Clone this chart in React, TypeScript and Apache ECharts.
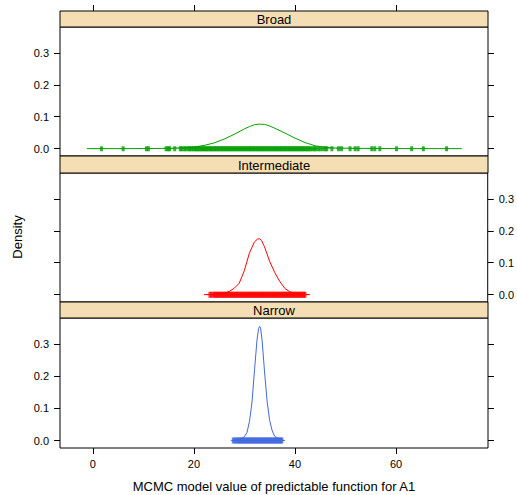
import React, { useEffect, useRef } from "react";
import * as echarts from "echarts";

// ---- data ----
const panelNames = ["Broad", "Intermediate", "Narrow"];
const panelColors = ["#00A000", "#FF0000", "#4169E1"];

const xTicks = [0, 20, 40, 60];
const yTicks = [0, 0.1, 0.2, 0.3];

const broadCurve: [number, number][] = [
  [-1.2, 0], [5, 0], [10, 0.0003], [15, 0.001], [18, 0.003], [20, 0.005], [22, 0.01],
  [24, 0.018], [26, 0.03], [28, 0.045], [30, 0.062], [31, 0.069], [32, 0.075],
  [33, 0.077], [34, 0.076], [35, 0.071], [36, 0.064], [38, 0.049], [40, 0.033],
  [42, 0.019], [44, 0.009], [46, 0.004], [48, 0.002], [52, 0.001], [60, 0.0002], [73, 0],
];
const intermediateCurve: [number, number][] = [
  [22, 0], [24, 0.001], [26, 0.004], [27, 0.01], [28, 0.02], [29, 0.036], [30, 0.075],
  [31, 0.13], [32, 0.165], [32.6, 0.174], [33, 0.175], [33.4, 0.17], [34, 0.15],
  [35, 0.105], [36, 0.07], [37, 0.042], [38, 0.02], [39, 0.009], [40, 0.004],
  [41, 0.002], [43, 0],
];
const narrowCurve: [number, number][] = [
  [27.5, 0], [29, 0.003], [30, 0.012], [30.5, 0.025], [31, 0.06], [31.5, 0.12],
  [32, 0.22], [32.5, 0.315], [32.8, 0.348], [33, 0.355], [33.2, 0.35], [33.5, 0.31],
  [34, 0.21], [34.5, 0.12], [35, 0.062], [35.5, 0.03], [36, 0.013], [37, 0.004], [38, 0],
];

const broadRug = [
  1.7, 6.0, 10.6, 11.0, 14.5, 14.9, 15.2, 16.2, 17.3, 17.6, 18.1, 18.4, 18.9, 19.2, 19.5,
  19.9, 20.2, 20.5, 20.8, 21.1, 21.4, 21.7, 22.0, 22.3, 22.6, 22.9, 23.2, 23.5, 23.8,
  24.1, 24.4, 24.7, 25.0, 25.3, 25.6, 25.9, 26.2, 26.5, 26.8, 27.1, 27.4, 27.7, 28.0,
  28.3, 28.6, 28.9, 29.2, 29.5, 29.8, 30.1, 30.4, 30.7, 31.0, 31.3, 31.6, 31.9, 32.2,
  32.5, 32.8, 33.1, 33.4, 33.7, 34.0, 34.3, 34.6, 34.9, 35.2, 35.5, 35.8, 36.1, 36.4,
  36.7, 37.0, 37.3, 37.6, 37.9, 38.2, 38.5, 38.8, 39.1, 39.4, 39.7, 40.0, 40.3, 40.6,
  40.9, 41.2, 41.5, 41.8, 42.1, 42.4, 42.7, 43.0, 43.4, 43.8, 44.1, 44.6, 45.0, 45.5,
  46.0, 46.3, 47.3, 48.6, 49.2, 50.9, 51.9, 52.5, 55.2, 55.8, 56.8, 60.1, 63.1, 65.4, 70.0,
];
const intermediateRug = [
  23.2, 23.6, 24.0, 24.3, 24.6, 24.9, 25.2, 25.5, 25.8, 26.1, 26.4, 26.7, 27.0, 27.3,
  27.6, 27.9, 28.2, 28.5, 28.8, 29.1, 29.4, 29.7, 30.0, 30.3, 30.6, 30.9, 31.2, 31.5,
  31.8, 32.1, 32.4, 32.7, 33.0, 33.3, 33.6, 33.9, 34.2, 34.5, 34.8, 35.1, 35.4, 35.7,
  36.0, 36.3, 36.6, 36.9, 37.2, 37.5, 37.8, 38.1, 38.4, 38.7, 39.0, 39.3, 39.6, 39.9,
  40.2, 40.5, 40.8, 41.1, 41.4, 41.7, 42.0,
];
const narrowRug = [
  27.8, 28.1, 28.4, 28.7, 28.95, 29.2, 29.45, 29.7, 29.95, 30.2, 30.45, 30.7, 30.95,
  31.2, 31.45, 31.7, 31.95, 32.2, 32.45, 32.7, 32.95, 33.2, 33.45, 33.7, 33.95, 34.2,
  34.45, 34.7, 34.95, 35.2, 35.45, 35.7, 35.95, 36.2, 36.45, 36.7, 36.95, 37.2, 37.4,
];

const curves = [broadCurve, intermediateCurve, narrowCurve];
const rugs = [broadRug, intermediateRug, narrowRug];

// ---- layout ----
const X_MIN = -6.5;
const X_MAX = 78.2;
const Y_MIN = -0.023;
const Y_MAX = 0.381;
const LEFT = 60;
const WIDTH = 428;
const panels = [
  { top: 27, height: 129, stripTop: 11, stripH: 16 },
  { top: 173, height: 129, stripTop: 156, stripH: 17 },
  { top: 318, height: 130, stripTop: 302, stripH: 16 },
];
const FONT = "Liberation Sans, Arial, Helvetica, sans-serif";
const PLUS = "path://M1,0H4V2.5H5V3.5H4V6H1V3.5H0V2.5H1Z";

export default function App() {
  const ref = useRef<HTMLDivElement>(null);
  useEffect(() => {
    document.body.style.margin = "0";
    if (!ref.current) return;
    const chart = echarts.init(ref.current, undefined, { renderer: "svg" });

    const tick = (show: boolean) => ({
      show,
      inside: false,
      length: 6,
      lineStyle: { color: "#000", width: 1 },
    });

    const grid = panels.map((p) => ({
      left: LEFT,
      top: p.top,
      width: WIDTH,
      height: p.height,
      show: true,
      borderColor: "#000",
      borderWidth: 1,
      backgroundColor: "transparent",
      containLabel: false,
    }));

    const xAxis: any[] = panels.map((_, i) => ({
      type: "value",
      gridIndex: i,
      min: X_MIN,
      max: X_MAX,
      position: "bottom",
      axisLine: { show: false, onZero: false },
      splitLine: { show: false },
      axisTick: { ...tick(i === 2), customValues: xTicks },
      axisLabel: {
        show: i === 2,
        customValues: xTicks,
        margin: 10,
        fontSize: 11,
        fontFamily: FONT,
        color: "#000",
      },
    }));
    xAxis.push({
      type: "value",
      gridIndex: 0,
      min: X_MIN,
      max: X_MAX,
      position: "top",
      offset: 16,
      axisLine: { show: false, onZero: false },
      splitLine: { show: false },
      axisTick: { ...tick(true), customValues: xTicks },
      axisLabel: { show: false },
    });

    const yAxis: any[] = [];
    panels.forEach((_, i) => {
      const labelsLeft = i !== 1;
      ["left", "right"].forEach((pos) => {
        const withLabels = (pos === "left") === labelsLeft;
        yAxis.push({
          type: "value",
          gridIndex: i,
          min: Y_MIN,
          max: Y_MAX,
          position: pos,
          axisLine: { show: false, onZero: false },
          splitLine: { show: false },
          axisTick: { ...tick(true), customValues: yTicks },
          axisLabel: {
            show: withLabels,
            customValues: yTicks,
            formatter: (v: number) => v.toFixed(1),
            margin: 11,
            fontSize: 11,
            fontFamily: FONT,
            color: "#000",
          },
        });
      });
    });

    const series: any[] = [];
    panels.forEach((_, i) => {
      series.push({
        type: "line",
        xAxisIndex: i,
        yAxisIndex: i * 2,
        data: curves[i],
        showSymbol: false,
        smooth: false,
        lineStyle: { color: panelColors[i], width: 1 },
        silent: true,
      });
      series.push({
        type: "scatter",
        xAxisIndex: i,
        yAxisIndex: i * 2,
        data: rugs[i].map((x) => [x, 0]),
        symbol: PLUS,
        symbolSize: i === 0 ? [5, 5] : [5, 6],
        itemStyle: { color: panelColors[i] },
        silent: true,
      });
    });

    const graphic: any[] = [];
    panels.forEach((p, i) => {
      graphic.push({
        type: "rect",
        shape: { x: LEFT, y: p.stripTop, width: WIDTH, height: p.stripH },
        style: { fill: "#F5DEB3", stroke: "#000", lineWidth: 1 },
        z: 10,
      });
      graphic.push({
        type: "text",
        x: LEFT + WIDTH / 2,
        y: p.stripTop + p.stripH / 2 + 0.5,
        style: {
          text: panelNames[i],
          fontSize: 13,
          fontFamily: FONT,
          fill: "#000",
          textAlign: "center",
          textVerticalAlign: "middle",
        },
        z: 11,
      });
    });
    graphic.push({
      type: "text",
      x: 274,
      y: 486,
      style: {
        text: "MCMC model value of predictable function for A1",
        fontSize: 13,
        fontFamily: FONT,
        fill: "#000",
        textAlign: "center",
        textVerticalAlign: "middle",
      },
    });
    graphic.push({
      type: "text",
      x: 17,
      y: 237,
      rotation: Math.PI / 2,
      style: {
        text: "Density",
        fontSize: 13,
        fontFamily: FONT,
        fill: "#000",
        textAlign: "center",
        textVerticalAlign: "middle",
      },
    });

    chart.setOption({
      animation: false,
      backgroundColor: "#fff",
      grid,
      xAxis,
      yAxis,
      series,
      graphic,
    });
    return () => chart.dispose();
  }, []);
  return <div ref={ref} style={{ width: 517, height: 495 }} />;
}
